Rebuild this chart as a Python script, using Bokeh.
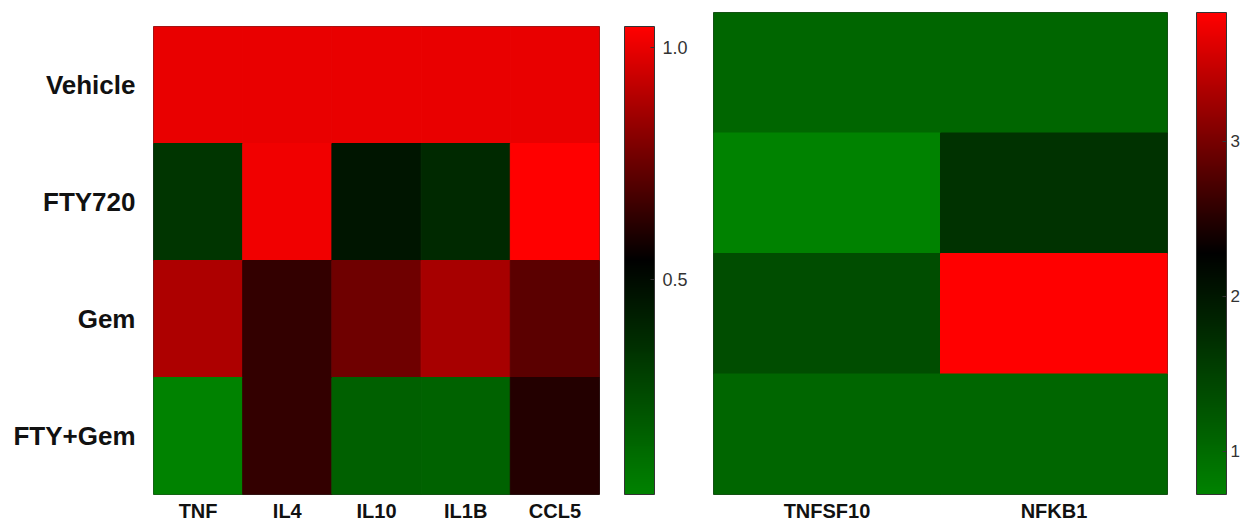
from bokeh.plotting import figure
from bokeh.models import ColumnDataSource, LinearColorMapper, ColorBar, FixedTicker, PrintfTickFormatter, Spacer
from bokeh.layouts import row, column
from bokeh.embed import file_html
from bokeh.resources import INLINE

# ---- data ----
groups = ["Vehicle", "FTY720", "Gem", "FTY+Gem"]
genes_a = ["TNF", "IL4", "IL10", "IL1B", "CCL5"]
genes_b = ["TNFSF10", "NFKB1"]

vehicle_a = [1.00, 1.00, 1.00, 1.00, 1.00]
fty720_a = [0.34, 1.015, 0.46, 0.38, 1.045]
gem_a = [0.88, 0.64, 0.76, 0.87, 0.72]
ftygem_a = [0.037, 0.64, 0.17, 0.16, 0.61]

vehicle_b = [1.06, 1.06]
fty720_b = [0.72, 1.67]
gem_b = [1.36, 3.83]
ftygem_b = [1.06, 1.06]

ticks_a = [0.5, 1.0]
ticks_b = [1, 2, 3]

FONT = "Liberation Sans"


def redgreen(n=256):
    pal = []
    for i in range(n):
        t = i / (n - 1)
        if t < 0.5:
            r, g = 0, int(round(130 * (1 - t / 0.5)))
        else:
            r, g = int(round(255 * (t - 0.5) / 0.5)), 0
        pal.append("#%02x%02x%02x" % (r, g, 0))
    return pal


PAL = redgreen()


def build_source(genes, rows_vals):
    xs, ys, vs = [], [], []
    for grp, vals in zip(groups, rows_vals):
        for g, v in zip(genes, vals):
            xs.append(g)
            ys.append(grp)
            vs.append(v)
    return ColumnDataSource(dict(gene=xs, group=ys, val=vs))


def heatmap(genes, rows_vals, ticks, fmt, frame_w, frame_h, border_l, border_r,
            show_y, bar_gap, cb_font, cb_standoff):
    src = build_source(genes, rows_vals)
    allv = [v for r in rows_vals for v in r]
    mapper = LinearColorMapper(palette=PAL, low=min(allv), high=max(allv))
    p = figure(x_range=genes, y_range=list(reversed(groups)),
               frame_width=frame_w, frame_height=frame_h,
               min_border_left=border_l, min_border_top=12,
               min_border_right=border_r, min_border_bottom=32,
               output_backend="svg", toolbar_location=None, title=None)
    cmap = {"field": "val", "transform": mapper}
    p.rect(x="gene", y="group", width=1, height=1, source=src,
           fill_color=cmap, line_color=cmap, line_width=1)
    p.grid.visible = False
    p.outline_line_color = "#333333"
    p.outline_line_width = 1
    p.background_fill_color = "white"
    p.border_fill_color = "white"
    for ax in (p.xaxis[0], p.yaxis[0]):
        ax.axis_line_color = None
        ax.major_tick_line_color = None
        ax.minor_tick_line_color = None
        ax.major_tick_out = 0
        ax.major_tick_in = 0
        ax.major_label_text_font = FONT
        ax.major_label_text_font_style = "bold"
        ax.major_label_text_color = "#111111"
    p.xaxis.major_label_text_font_size = "20px"
    p.xaxis.major_label_standoff = 5
    p.yaxis.major_label_text_font_size = "26px"
    p.yaxis.major_label_standoff = 18
    if not show_y:
        p.yaxis.visible = False
    cb = ColorBar(color_mapper=mapper, ticker=FixedTicker(ticks=ticks),
                  formatter=PrintfTickFormatter(format=fmt),
                  width=30, height=frame_h, margin=0, padding=0,
                  location=(bar_gap, 0),
                  bar_line_color="#333333", bar_line_width=1,
                  major_tick_line_color="#333333", major_tick_in=4, major_tick_out=0,
                  minor_tick_line_color=None,
                  major_label_text_font=FONT, major_label_text_font_size=cb_font,
                  major_label_text_color="#333333", label_standoff=cb_standoff,
                  background_fill_alpha=0, border_line_color=None)
    p.add_layout(cb, "right")
    return p


p1 = heatmap(genes_a, [vehicle_a, fty720_a, gem_a, ftygem_a], ticks_a, "%.1f",
             446, 468, 153, 101, True, 25, "18px", 8)
p2 = heatmap(genes_b, [vehicle_b, fty720_b, gem_b, ftygem_b], ticks_b, "%d",
             454, 482, 13, 75, False, 29, "17px", 4)

layout = row(column(Spacer(width=700, height=14), p1), p2)
open("out.html", "w").write(file_html(layout, INLINE))
